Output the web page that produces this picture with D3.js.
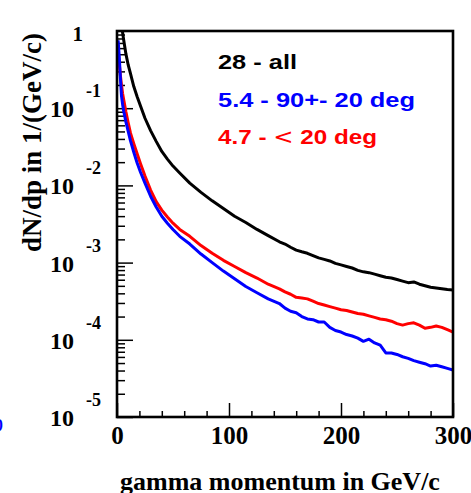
<!DOCTYPE html>
<html><head><meta charset="utf-8">
<script src="https://cdn.jsdelivr.net/npm/d3@7"></script>
<style>html,body{margin:0;padding:0;background:#fff;overflow:hidden}</style>
</head><body>
<svg id="chart" width="471" height="493"></svg>
<script>
// gamma momentum (GeV/c)
const momentum = [1,2,3,4,5,6,8,10,12,15,18,21,25,30,35,40,45,50,56,65,75,85,95,105,115,125,135,145,150,155,160,165,170,175,180,185,190,195,200,205,210,215,220,225,230,235,240,245,250,255,260,265,270,275,280,285,290,295,300];
// dN/dp, all gammas (28)
const allGammas = [5.01,2.51,1.58,1.20,0.955,0.759,0.501,0.363,0.282,0.191,0.141,0.107,0.0741,0.0513,0.0372,0.0275,0.0219,0.0178,0.0145,0.0107,0.00813,0.00631,0.00501,0.00398,0.00331,0.00269,0.00224,0.00186,0.00174,0.00158,0.00145,0.00138,0.00132,0.00123,0.00115,0.00110,0.00105,0.000977,0.000933,0.000891,0.000851,0.000794,0.000759,0.000741,0.000708,0.000676,0.000646,0.000631,0.000603,0.000575,0.000550,0.000562,0.000525,0.000501,0.000479,0.000468,0.000457,0.000447,0.000442];
// dN/dp, 90 +- 20 deg (5.4)
const perpGammas = [0.759,0.468,0.251,0.145,0.112,0.0912,0.0661,0.0501,0.0380,0.0269,0.0195,0.0148,0.0107,0.00724,0.00525,0.00398,0.00324,0.00269,0.00219,0.00174,0.00129,0.00100,0.000776,0.000617,0.000490,0.000407,0.000339,0.000295,0.000257,0.000234,0.000224,0.000200,0.000186,0.000182,0.000170,0.000170,0.000145,0.000132,0.000126,0.000117,0.000112,0.000105,0.0000955,0.000102,0.0000912,0.0000851,0.0000676,0.0000676,0.0000646,0.0000603,0.0000575,0.0000537,0.0000513,0.0000490,0.0000457,0.0000468,0.0000447,0.0000427,0.0000407];
// dN/dp, < 20 deg (4.7)
const fwdGammas = [0.537,0.380,0.269,0.200,0.155,0.129,0.0891,0.0646,0.0479,0.0347,0.0257,0.0191,0.0132,0.00871,0.00617,0.00479,0.00389,0.00324,0.00269,0.00219,0.00166,0.00132,0.00107,0.000891,0.000741,0.000631,0.000525,0.000457,0.000417,0.000389,0.000355,0.000347,0.000339,0.000316,0.000295,0.000282,0.000269,0.000257,0.000245,0.000240,0.000229,0.000219,0.000214,0.000204,0.000195,0.000186,0.000182,0.000174,0.000162,0.000155,0.000162,0.000166,0.000155,0.000141,0.000145,0.000151,0.000145,0.000135,0.000126];

const xTicks = [0,100,200,300];
const xDomain = [0,300];
const yDomain = [1e-5,1];
const yExponents = [-1,-2,-3,-4,-5];
const seriesLabels = ["28 - all","5.4 - 90+- 20 deg","4.7 - "," 20 deg"];
const xTitle = "gamma momentum in GeV/c";
const yTitle = "dN/dp in 1/(GeV/c)";

const svg = d3.select("#chart");
const L = 117, R = 453, T = 31, B = 417;
const x = d3.scaleLinear().domain(xDomain).range([L, R]);
const y = d3.scaleLog().domain(yDomain).range([B, T]);

svg.append("defs").append("clipPath").attr("id","clip")
  .append("rect").attr("x",L).attr("y",T).attr("width",R-L).attr("height",B-T);

const serif = "'Liberation Serif','Times New Roman',serif";
const sans = "'Liberation Sans',Arial,sans-serif";

// x axis ticks (inward)
const xMinor = d3.range(xDomain[0], xDomain[1]+1, 20).filter(v => v % 100 !== 0);
const gxMinor = svg.append("g").attr("transform",`translate(0,${B})`)
  .call(d3.axisBottom(x).tickValues(xMinor).tickSize(-6).tickFormat(""));
const gx = svg.append("g").attr("transform",`translate(0,${B})`)
  .call(d3.axisBottom(x).tickValues(xTicks).tickSize(-14).tickPadding(9).tickFormat(d3.format("d")));
gx.selectAll("text").attr("font-family",serif).attr("font-weight","bold").attr("font-size",25).attr("fill","#000");

// y axis ticks (inward)
const yMinorVals = [];
for (let e = -5; e < 0; e++) for (let k = 2; k <= 9; k++) yMinorVals.push(k * Math.pow(10, e));
const gyMinor = svg.append("g").attr("transform",`translate(${L},0)`)
  .call(d3.axisLeft(y).tickValues(yMinorVals).tickSize(-8).tickFormat(""));
const gy = svg.append("g").attr("transform",`translate(${L},0)`)
  .call(d3.axisLeft(y).tickValues(yExponents.map(e => Math.pow(10,e))).tickSize(-16).tickFormat(""));
[gx, gxMinor, gy, gyMinor].forEach(g => {
  g.select(".domain").remove();
  g.selectAll("line").attr("stroke","#000").attr("stroke-width",1.5);
});

// y labels: 10^e
yExponents.forEach(e => {
  const yy = y(Math.pow(10,e));
  svg.append("text").attr("x",74).attr("y",yy+9).attr("text-anchor","end")
    .attr("font-family",serif).attr("font-weight","bold").attr("font-size",24).text("10");
  svg.append("text").attr("x",86).attr("y",yy-11)
    .attr("font-family",serif).attr("font-weight","bold").attr("font-size",18).text(String(e));
});
svg.append("text").attr("x",83).attr("y",y(1)+10).attr("text-anchor","end")
  .attr("font-family",serif).attr("font-weight","bold").attr("font-size",21).text("1");

// curves
const line = d3.line().x((d,i) => x(momentum[i])).y(d => y(d));
const curves = svg.append("g").attr("clip-path","url(#clip)");
[[allGammas,"#000"],[fwdGammas,"#ff0000"],[perpGammas,"#0000ff"]].forEach(([vals,col]) => {
  curves.append("path").datum(vals).attr("d",line).attr("fill","none")
    .attr("stroke",col).attr("stroke-width",3).attr("stroke-linejoin","round");
});

// frame
svg.append("rect").attr("x",L).attr("y",T).attr("width",R-L).attr("height",B-T)
  .attr("fill","none").attr("stroke","#000").attr("stroke-width",2.6);

// legend
const lg = svg.append("g").attr("font-family",sans).attr("font-weight","bold").attr("font-size",21);
lg.append("text").attr("x",218).attr("y",69).attr("fill","#000")
  .attr("textLength",79).attr("lengthAdjust","spacingAndGlyphs").text(seriesLabels[0]);
lg.append("text").attr("x",218).attr("y",107).attr("fill","#0000ff")
  .attr("textLength",197).attr("lengthAdjust","spacingAndGlyphs").text(seriesLabels[1]);
const rt = lg.append("text").attr("x",218).attr("y",144).attr("fill","#ff0000")
  .attr("textLength",159).attr("lengthAdjust","spacingAndGlyphs");
rt.append("tspan").text(seriesLabels[2]);
rt.append("tspan").attr("font-weight","normal").attr("font-family","'DejaVu Sans',sans-serif").text("<");
rt.append("tspan").text(seriesLabels[3]);

// axis titles
svg.append("text").attr("x",120).attr("y",490)
  .attr("font-family",serif).attr("font-weight","bold").attr("font-size",26).text(xTitle);
svg.append("text").attr("transform","translate(41,33) rotate(-90)").attr("text-anchor","end")
  .attr("font-family",serif).attr("font-weight","bold").attr("font-size",27).text(yTitle);

// stray clipped glyph at left edge
svg.append("text").attr("x",3).attr("y",431).attr("text-anchor","end").attr("fill","#0000ff")
  .attr("font-family",sans).attr("font-weight","bold").attr("font-size",16).text("0");
</script>
</body></html>
